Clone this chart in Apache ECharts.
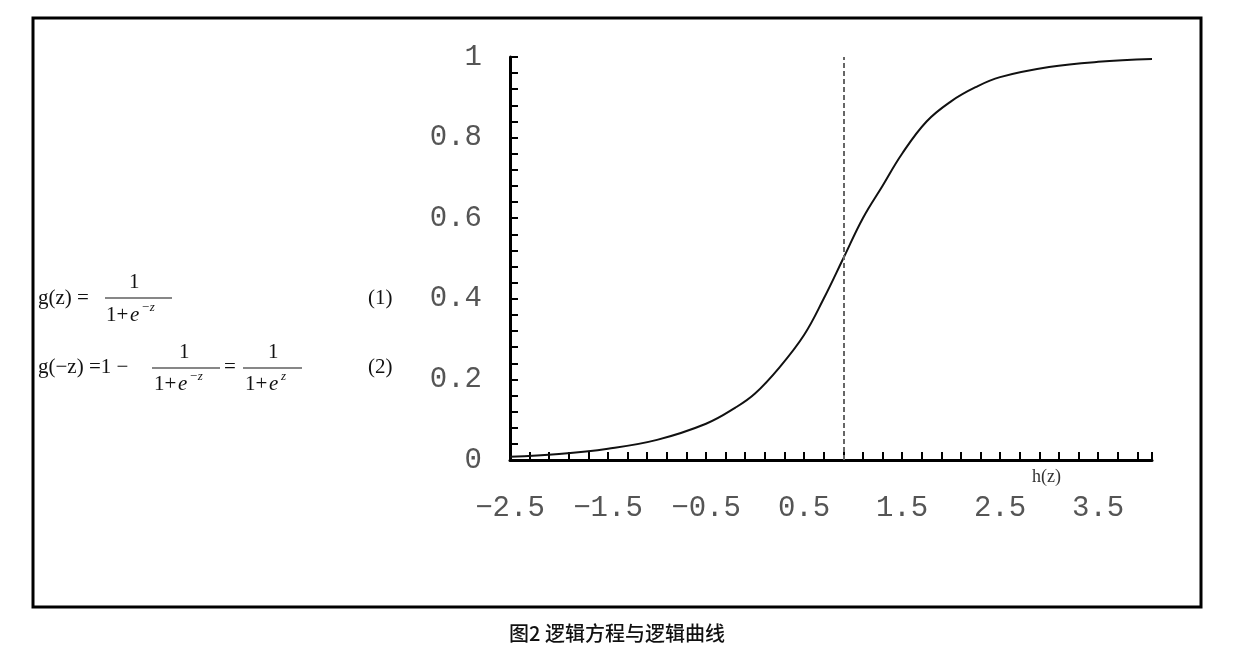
<!DOCTYPE html>
<html><head><meta charset="utf-8">
<script src="https://cdn.jsdelivr.net/npm/echarts@6/dist/echarts.min.js"></script>
<style>html,body{margin:0;padding:0;background:#fff}#c{width:1256px;height:662px}</style>
</head><body><div id="c"></div>
<script>
const xs = [-2.5,-2.0,-1.5,-1.0,-0.5,-0.2,0.0,0.25,0.5,0.7,0.9,1.1,1.3,1.5,1.75,2.0,2.25,2.5,3.0,3.5,4.05];
const ys = [0.008,0.015,0.028,0.05,0.09,0.13,0.165,0.23,0.31,0.4,0.5,0.6,0.68,0.76,0.84,0.89,0.925,0.95,0.975,0.988,0.995];
const dashX = 0.9;
const caption = '图2 逻辑方程与逻辑曲线';
const chart = echarts.init(document.getElementById('c'));
const serif = 'Liberation Serif';
const F = '21px '+serif;
const T = (x,y,text,font) => ({type:'text',x:x,y:y,style:{text:text,font:font||F,fill:'#111',textVerticalAlign:'middle'}});
const L = (x1,x2,y) => ({type:'line',shape:{x1:x1,y1:y,x2:x2,y2:y},style:{stroke:'#111',lineWidth:1.2}});
const EI = 'italic 21px '+serif, SUP = 'italic 13px '+serif;
chart.setOption({
  animation:false,
  grid:{left:510,right:104,top:57,bottom:202},
  xAxis:{type:'value',min:-2.5,max:4.05,interval:1,
    axisLine:{lineStyle:{color:'#000',width:3}},
    axisTick:{show:true,inside:true,length:8,lineStyle:{color:'#000',width:2}},
    minorTick:{show:true,splitNumber:5,length:8,lineStyle:{color:'#000',width:2}},
    splitLine:{show:false},
    axisLabel:{showMaxLabel:false,margin:34,color:'#555',fontFamily:'Liberation Mono',fontSize:29,
      formatter:v=>String(v).replace('-','\u2212')}},
  yAxis:{type:'value',min:0,max:1,interval:0.2,
    axisLine:{show:true,onZero:false,lineStyle:{color:'#000',width:3}},
    axisTick:{show:true,inside:true,length:8,lineStyle:{color:'#000',width:2}},
    minorTick:{show:true,splitNumber:5,length:8,lineStyle:{color:'#000',width:2}},
    splitLine:{show:false},
    axisLabel:{margin:28,color:'#555',fontFamily:'Liberation Mono',fontSize:29,formatter:v=>String(v)}},
  series:[{type:'line',data:xs.map((x,i)=>[x,ys[i]]),smooth:0.4,symbol:'none',
    lineStyle:{color:'#111',width:2},
    markLine:{silent:true,symbol:'none',label:{show:false},
      lineStyle:{color:'#666',type:[5,3],width:2},
      data:[[{coord:[dashX,0]},{coord:[dashX,1]}]]}}],
  graphic:[
    {type:'rect',shape:{x:33,y:18,width:1168,height:589},style:{fill:'none',stroke:'#000',lineWidth:3}},
    {type:'text',x:617,y:633,style:{text:caption,font:'500 20px "Noto Sans CJK SC"',fill:'#111',textAlign:'center',textVerticalAlign:'middle'}},
    {type:'text',x:1032,y:477,style:{text:'h(z)',font:'18px '+serif,fill:'#333',textVerticalAlign:'middle',
      rich:{}}},
    T(38,298,'g(z) ='),
    T(129,282,'1'),L(105,172,298),
    T(106,315,'1+'),T(130,315,'e',EI),T(141,308,'−z',SUP),
    T(368,298,'(1)'),
    T(38,367,'g(−z) =1 −'),
    T(179,352,'1'),L(152,220,368),
    T(154,384,'1+'),T(178,384,'e',EI),T(189,377,'−z',SUP),
    T(224,367,'='),
    T(268,352,'1'),L(243,302,368),
    T(245,384,'1+'),T(269,384,'e',EI),T(281,377,'z',SUP),
    T(368,367,'(2)')
  ]
});
</script></body></html>
